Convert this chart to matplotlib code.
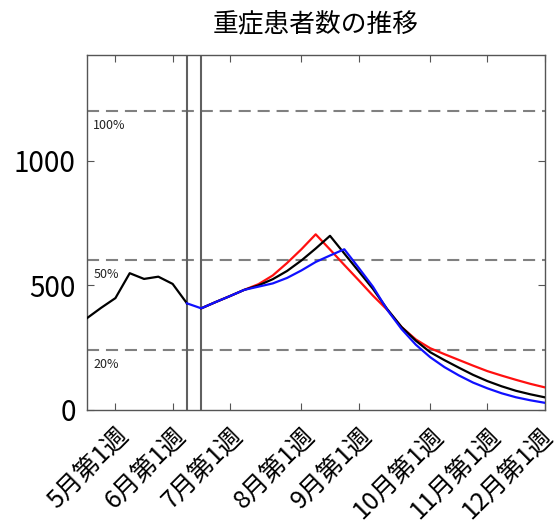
import numpy as np
import matplotlib
matplotlib.use("Agg")
from matplotlib import pyplot as plt
from matplotlib import transforms

plt.rcParams['font.family'] = ['Noto Sans CJK JP', 'DejaVu Sans']

# weeks counted from 5月第1週 = 0
hist_weeks = list(range(-2, 6))
hist_vals = [368, 410, 449, 549, 526, 535, 506, 428]

sc_weeks = list(range(6, 31))
red_vals = [408, 433, 457, 482, 505, 540, 590, 645, 705, 644, 582, 521, 459,
            402, 333, 283, 248, 224, 201, 178, 156, 138, 121, 105, 91]
black_vals = [408, 433, 457, 482, 500, 525, 558, 600, 648, 699, 628, 557, 486,
              405, 333, 278, 232, 200, 170, 141, 116, 95, 77, 63, 51]
blue_weeks = list(range(5, 31))
blue_vals = [428, 408, 433, 457, 482, 495, 508, 530, 560, 594, 620, 645, 571,
             495, 402, 325, 262, 212, 172, 139, 110, 87, 67, 51, 39, 29]

tick_weeks = [0, 4, 8, 13, 17, 22, 26, 30]
tick_labels = ['5月第1週', '6月第1週', '7月第1週', '8月第1週', '9月第1週',
               '10月第1週', '11月第1週', '12月第1週']

levels = [1200, 600, 240]
level_labels = ['100%', '50%', '20%']
break_weeks = [5, 6]

fig = plt.figure(figsize=(5.6, 5.28), dpi=100)
ax = fig.add_axes([0.155, 0.2235, 0.8175, 0.6725])

for lv, lab in zip(levels, level_labels):
    ln, = ax.plot([-2, 30], [lv, lv], color='#808080', lw=1.5, zorder=1)
    ln.set_dashes((5.8, 3.3))
    ax.text(-1.55, lv - 58, lab, fontsize=9, va='center', ha='left', color='#222222')

for bw in break_weeks:
    ax.axvline(bw, color='#606060', lw=1.5, zorder=2)

ax.plot(hist_weeks, hist_vals, color='black', lw=1.6, zorder=3)
ax.plot(sc_weeks, red_vals, color='#ff1010', lw=1.6, zorder=3)
ax.plot(sc_weeks, black_vals, color='black', lw=1.6, zorder=4)
ax.plot(blue_weeks, blue_vals, color='#1010ff', lw=1.6, zorder=5)

ax.set_xlim(-2, 30)
ax.set_ylim(0, 1425)
ax.set_yticks([0, 500, 1000])
ax.set_yticklabels(['0', '500', '1000'], fontsize=20)
ax.set_xticks(tick_weeks)
ax.set_xticklabels(tick_labels, fontsize=18, rotation=45, ha='right',
                   va='top', rotation_mode='anchor')
ax.tick_params(direction='in', top=True, right=True, length=5, width=0.8,
               color='#555555')
ax.tick_params(axis='x', pad=9)
ax.tick_params(axis='y', pad=8)
for sp in ax.spines.values():
    sp.set_color('#555555')
    sp.set_linewidth(1.0)

# nudge the last label so it stays inside the figure
last = ax.get_xticklabels()[-1]
last.set_transform(last.get_transform() +
                   transforms.ScaledTranslation(-5 / 100, 0, fig.dpi_scale_trans))

fig.text(0.5637, 0.955, '重症患者数の推移', fontsize=18.5, ha='center', va='center')

fig.savefig('out.png', dpi=100)
